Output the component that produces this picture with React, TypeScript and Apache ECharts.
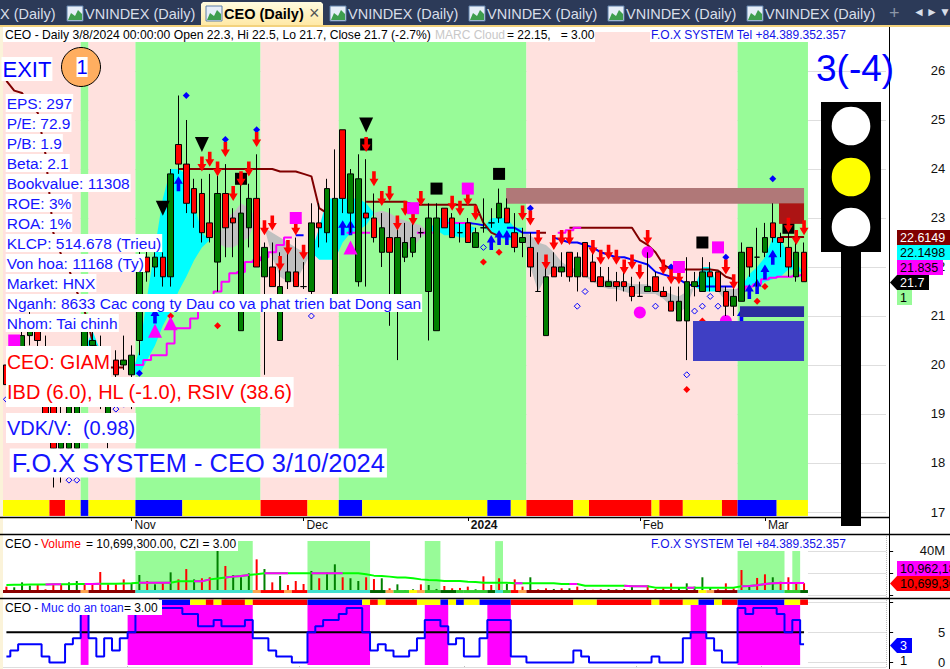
import React, { useEffect, useRef } from "react";
import * as echarts from "echarts";

const FONT = '"Liberation Sans", Arial, sans-serif';
const CATEGORY_COUNT = 113;
const monthTicks: Record<number, string> = { 16: "Nov", 38: "Dec", 59: "2024", 81: "Feb", 97: "Mar" };
const categories = Array.from({ length: CATEGORY_COUNT }, (_, i) => monthTicks[i] ?? String(i));

const opens = [20.0,19.8,19.8,20.6,20.7,19.4,19.2,18.3,18.3,18.3,20.2,20.4,20.3,19.0,20.1,20.0,19.8,20.5,22.2,22.0,22.2,21.8,24.5,24.1,23.6,23.5,22.9,22.1,23.5,23.0,20.7,22.8,23.4,21.8,22.0,20.5,21.7,21.9,21.6,21.5,22.9,22.7,21.2,24.8,23.1,21.7,23.1,23.0,22.3,22.6,21.3,22.2,22.3,22.7,21.5,20.7,23.2,23.0,22.7,22.9,22.4,22.8,22.9,23.0,23.2,22.7,22.5,22.4,21.5,20.6,22.0,21.9,22.3,21.8,22.5,22.1,21.8,21.6,21.7,21.7,21.6,21.4,21.5,21.8,21.5,21.3,20.9,20.9,21.6,21.5,21.9,21.9,21.5,21.2,21.3,22.4,22.2,22.3,22.9,22.6,22.4,21.8,22.3];
const closes = [19.6,20.2,20.6,20.9,20.5,19.0,18.3,19.0,19.2,19.2,20.7,20.5,20.3,19.2,19.8,20.1,20.2,22.1,21.9,22.2,21.8,23.9,24.1,23.3,23.1,22.7,22.6,23.5,22.8,22.9,23.1,23.4,22.0,22.4,21.6,21.6,21.9,21.6,21.6,22.9,22.8,23.6,23.4,23.4,23.9,23.8,23.0,22.6,22.8,22.3,22.6,22.5,22.6,22.7,23.0,23.0,22.8,22.6,22.7,22.5,22.7,22.8,22.9,23.3,22.9,22.4,22.6,22.0,21.5,21.8,21.8,22.0,21.8,22.2,21.8,21.7,21.6,21.7,21.6,21.6,21.4,21.4,21.6,21.5,21.4,21.1,21.3,21.7,21.7,21.9,21.8,21.5,21.2,21.4,22.3,22.0,22.2,22.6,22.6,22.5,22.0,22.3,21.7];
const lows = [19.5,19.6,19.7,20.4,20.2,18.8,17.5,17.6,18.1,18.2,20.1,20.1,19.1,18.3,19.7,19.9,19.1,20.2,21.7,21.8,21.6,21.6,23.9,23.1,22.8,22.5,22.5,21.5,22.2,22.2,20.7,22.4,22.0,19.8,21.6,20.5,21.55,21.6,21.55,21.3,22.4,22.5,21.1,23.1,22.7,21.6,21.6,22.5,22.0,20.8,20.1,22.1,22.2,22.6,20.5,20.7,22.8,22.6,22.5,22.5,22.4,22.7,22.8,22.9,22.9,22.3,22.2,21.8,21.5,20.6,21.8,21.8,21.7,21.5,21.8,21.7,21.6,21.6,21.3,21.5,21.3,21.4,21.5,21.5,21.4,21.1,20.9,20.1,21.4,21.5,21.5,21.5,21.0,21.0,21.3,21.8,21.6,22.2,22.5,22.2,21.8,21.7,21.7];
const highs = [20.1,20.3,20.7,21.1,20.9,20.6,19.4,19.2,19.3,19.4,20.9,20.7,20.6,19.3,20.3,20.6,20.4,22.4,22.4,22.3,22.3,24.0,25.5,25.0,23.8,23.8,23.9,24.0,24.1,23.2,23.9,23.7,24.3,22.5,22.5,22.3,22.5,22.6,22.1,23.3,23.3,23.8,24.4,24.8,24.0,24.3,24.2,23.5,23.1,23.2,22.8,22.9,22.9,22.8,23.3,23.3,23.2,23.1,22.9,23.0,22.8,23.4,23.2,23.6,23.4,23.1,22.8,22.7,22.3,22.2,22.3,22.3,22.3,22.3,22.5,22.3,22.0,22.0,21.9,21.9,21.8,21.7,22.3,21.9,21.6,21.6,21.6,22.2,21.9,22.2,22.1,21.9,21.6,21.6,22.5,22.4,22.8,22.9,23.3,22.7,22.8,22.5,22.5];

const volumes = [7.6,7,11.5,8.5,9.1,5.2,10,9.1,11.5,12.7,9.7,10.6,20.9,9.7,9.7,14.2,10.6,18.2,12.7,9.7,11.8,20.6,14.2,23.6,14.2,15.2,16.1,40.3,26.4,18.2,16.1,19.7,32.4,23.6,11.5,17.3,9.1,12.7,10,21.8,15.2,20.6,27.9,16.1,15.2,12.7,16.1,14.5,15.2,6.1,9.7,4.5,5.2,9.7,9.1,5.5,8.2,6.1,6.4,7.6,5.2,17,9.1,15.2,10,14.2,7.6,16.1,5.2,6.1,5.5,6.1,6.1,7.6,5.2,4.8,5.2,5.5,5.2,5.5,8.5,4.5,8.8,5.5,6.1,10.6,7,10.6,7.6,16.1,7,5.2,10.6,6.1,22.7,7.6,15.5,18.8,16.1,12.1,16.1,10.6,10.7];
const volumeSides = "rgggrrrrggrrrrrrggrgrgrrgrrgrgggrgrgrrrgrggrggrrgrgggrggrrrrgrrrgrrgrrgrgrgrrggrggrrrrgggggrrrrgrrgrrrrgr";
const volumeAverage = [9.1,9.3,9.3,9.5,9.5,9.6,9.7,9.7,9.8,9.9,10,10,10.2,10.2,10.3,10.5,10.6,11.2,11.2,11.2,11.2,11.2,12.4,12.4,12.4,12.4,14.2,15,16,16.7,17.3,18.2,18.8,19.7,19.7,19.7,19.7,19.7,19.7,19.7,19.7,19.7,19.7,19.7,19.7,19.7,18.8,17.6,17.3,16.7,16,15.8,15.2,14.2,13.6,13.3,12.7,12.7,12.7,12,11.8,11.2,11.2,11.2,11.2,10.6,10.6,10.6,10.6,10.6,10.6,10,10,10,8.5,8.5,8.5,8.5,8.5,8.5,7.9,7.9,7.9,6.7,6.7,6.7,6.7,6.7,6.7,6.7,6.7,6.7,6.7,6.7,7.9,8.2,8.8,10,10.6,10.8,10.9,10.96,10.96];
const volumeAverageMagentaRuns = [[5,7],[10,12],[17,21],[24,26],[28,31],[33,36],[39,43],[65,66],[72,73],[79,82],[87,88],[94,102]];

const safetyLevel = [1,2,3,3,3,1,0,0,3,4,8,4,1,4,2,4,5,8,8,9,9,9,9,8,8,6,6,7,6,6,6,7,4,4,2,1,1,0,0,5,6,7,7,8,9,9,5,2,3,2,1,1,2,4,7,7,6,3,4,1,1,4,7,7,7,1,1,0,0,0,0,0,0,2,1,0,0,0,0,0,0,0,0,1,0,0,0,4,5,5,4,2,0,0,9,8,9,9,9,8,5,7,3];
const safetyThreshold = safetyLevel.map(() => 5);

const trailSegments: [number, number[]][] = [
  [0,[25.8,25.6,25.55,25.3,25.15,24.3,22.7,22.25,21.95,21.5,21.1,20.5,20.25,19.95,19.95,19.95]],
  [22,[24,24,24,24,24,24,24,24,24,24,24,24,24,23.95,23.95,23.95,23.9,23.85,23.2,23.1]],
  [46,[23.33,23.33,23.33,23.33,23.33,23.33,23.27,23.27,23.27,23.27,23.27,23.27,23.27,23.27,23.27,22.9,22.7,22.63]],
  [68,[22.7,22.7]],
  [72,[22.8,22.8,22.8,22.8,22.8,22.8,22.8,22.8,22.8,22.55,22.45,22.3,22.05,21.95,21.95,21.95,21.95,21.95,21.95,21.93,21.8,21.75]],
  [99,[22.61,22.61,22.61,22.61]],
];
const magentaSegments: [number, number[]][] = [
  [17,[20.0,20.1,20.2,20.2,20.44,20.75,20.75,20.95,21.1,21.3,21.5,21.7,21.87,21.9,22.1,22.14,22.2,22.3,22.45,22.6]],
  [44,[22.7,22.7,22.7]],[53,[22.7,22.7]],[57,[22.9,22.9,22.9]],[71,[22.7,22.75,22.8]],
  [94,[21.55,21.6,21.65,21.75,21.78,21.8,21.8,21.82,21.835]],
];
const blueSegments: [number, number[]][] = [
  [37,[22.65,22.65]],[59,[22.9,22.88,22.85]],[64,[22.8,22.8,22.7,22.7,22.7]],
  [70,[22.6,22.55,22.5,22.5,22.45,22.4,22.3,22.25,22.2,22.2,22.15,22.1,22.05,21.9,21.85,21.8,21.75,21.65,21.62,21.6,21.6,21.6,21.6,21.6]],
];

const CYAN = "#00FFFF", GRAY = "#C0C0C0";
const cloudRuns = [
  { color: CYAN, start: 10, upper: [20.3,20.7,20.3], lower: [20.3,20.2,20.3] },
  { color: CYAN, start: 16, upper: [19.8,20.3,21.4,22.4,23.4,24.0,24.0,23.9,23.3,22.7,22.55], lower: [19.8,19.8,20.1,20.4,20.8,21.1,21.5,21.8,22.14,22.4,22.55] },
  { color: GRAY, start: 27, upper: [22.5,23.0,23.1,23.3,23.2,23.0], lower: [22.5,22.4,22.4,22.5,22.6,23.0] },
  { color: GRAY, start: 33, upper: [22.8,22.7,22.6,22.5,22.4,22.3,22.3], lower: [22.8,22.2,21.8,21.7,21.7,22.0,22.3] },
  { color: CYAN, start: 39, upper: [22.3,22.8,23.4,23.4,23.4,23.4,23.4,23.3,23.1], lower: [22.3,22.15,22.15,22.15,22.5,22.7,22.75,22.85,23.1] },
  { color: GRAY, start: 47, upper: [23.1,23.15,23.1,23.0,22.95,22.9,22.85,22.7], lower: [23.1,22.8,22.5,22.4,22.35,22.4,22.6,22.7] },
  { color: CYAN, start: 54, upper: [22.7,23.0,23.0,22.95,22.9,22.85,22.8], lower: [22.7,22.75,22.65,22.65,22.6,22.6,22.8] },
  { color: CYAN, start: 61, upper: [22.8,23.0,23.0,23.0,22.8,22.8], lower: [22.8,22.7,22.6,22.55,22.55,22.8] },
  { color: GRAY, start: 66, upper: [22.75,22.65,22.5,22.45,22.3,22.1,22.0,21.95,21.85,21.75,21.7,21.75,21.7,21.7,21.65,21.65,21.65,21.55,21.5,21.45,21.4,21.5,21.6], lower: [22.75,22.0,21.5,21.8,21.9,21.9,21.9,21.85,21.8,21.7,21.6,21.55,21.55,21.5,21.45,21.45,21.45,21.45,21.35,21.2,21.05,21.2,21.6] },
  { color: CYAN, start: 88, upper: [21.6,22.0,22.0,21.6], lower: [21.6,21.5,21.5,21.5] },
  { color: GRAY, start: 91, upper: [21.6,21.55,21.55,21.55], lower: [21.5,21.3,21.3,21.55] },
  { color: CYAN, start: 94, upper: [21.6,21.85,22.0,22.2,22.6,22.6,22.2,22.1,21.85], lower: [21.55,21.6,21.6,21.7,21.75,21.8,21.95,21.95,21.85] },
];

const redArrows = [[25,24.1],[26,24.2],[27,24.0],[28,24.4],[29,23.5],[30,23.8],[31,24.0],[32,24.6],[33,22.8],[34,22.9],[35,22.07],[36,22.4],[37,22.8],[38,22.3],[46,24.5],[47,23.8],[48,23.4],[49,23.5],[50,22.9],[51,23.2],[52,23.0],[53,23.4],[57,23.3],[58,23.2],[59,23.4],[60,23.1],[66,23.1],[67,23.0],[68,22.6],[69,22.1],[70,22.5],[71,22.6],[72,22.6],[75,22.4],[76,22.2],[77,22.3],[78,22.2],[79,22.0],[80,22.1],[81,21.9],[82,22.6],[84,22.0],[85,21.8],[86,21.8],[92,22.0],[93,21.7],[100,22.85],[101,22.6],[102,22.8]];
const blueArrows = [[19,21.0],[22,23.7],[43,22.8],[44,22.8],[62,22.5],[63,22.6],[64,22.6],[94,21.0],[95,21.5],[96,21.6],[97,21.9],[98,22.2]];
const blueDiamonds = [[17,19.83],[23,25.5],[28,24.6],[32,24.8],[67,23.2],[85,22.0],[92,22.2],[98,23.8]];
const redDiamonds = [[21,21.0],[27,20.8],[61,22.1],[63,22.3],[87,19.5],[89,20.9],[96,21.3],[97,21.6]];
const hollowDiamonds = [[0,19.3],[8,17.65],[9,17.65],[14,19.1],[15,19.2],[39,21.0],[61,22.4],[73,21.2],[74,21.5],[83,21.2],[87,19.8],[88,21.1],[89,21.2],[90,21.4],[91,21.2]];
const blackTriangles = [[20,23.2],[25,24.5],[46,24.9]];
const blackSquares = [[30,23.8],[46,24.5],[55,23.6],[63,23.9],[89,22.5],[100,22.8]];
const magentaSquares = [[1,20.5],[37,23.0],[52,23.2],[59,23.6],[86,22.0],[91,22.4]];
const magentaTriangles = [[19,20.7],[21,20.85],[44,22.4]];
const magentaCircles = [[81,21.07],[82,22.3],[92,20.9]];

const PINK = "#FFE1DE", GREEN = "#98FB98";
const regimeBands = [
  { k0: 0, k1: 10, color: PINK }, { k0: 10, k1: 11, color: GREEN }, { k0: 11, k1: 17, color: PINK },
  { k0: 17, k1: 33, color: GREEN }, { k0: 33, k1: 43, color: PINK }, { k0: 43, k1: 67, color: GREEN },
  { k0: 67, k1: 94, color: PINK }, { k0: 94, k1: 103, color: GREEN },
];
const RED = "#FF0000", YEL = "#FFFF00", BLU = "#0000FF";
const priceStrip: [number, number, string][] = [[0,6,YEL],[6,8,RED],[8,10,YEL],[10,11,BLU],[11,17,YEL],[17,23,BLU],[23,33,YEL],[33,39,RED],[39,43,YEL],[43,46,BLU],[46,62,YEL],[62,65,BLU],[65,67,YEL],[67,73,RED],[73,75,YEL],[75,83,RED],[83,84,YEL],[84,87,RED],[87,92,YEL],[92,94,RED],[94,99,BLU],[99,103,YEL]];
const safetyStrip: [number, number, string][] = [[20,24,BLU],[24,26,YEL],[26,27,RED],[27,28,YEL],[28,31,RED],[31,32,YEL],[32,39,RED],[39,46,BLU],[46,47,YEL],[47,48,RED],[48,49,YEL],[49,53,RED],[53,56,YEL],[56,57,BLU],[57,58,YEL],[58,59,BLU],[59,61,YEL],[61,65,BLU],[65,73,RED],[73,76,YEL],[76,83,RED],[83,84,YEL],[84,87,RED],[87,89,YEL],[89,91,BLU],[91,92,YEL],[92,94,RED],[94,100,BLU],[100,102,YEL],[102,103,RED]];
const DRED = "#8B0000", TURQ = "#40E0D0", ORG = "#FFA54F", LIME = "#32CD32", DGRN = "#006400";
const volumeStrip: [number, number, string][] = [[0,10,DRED],[10,11,ORG],[11,17,DRED],[17,32,TURQ],[32,33,ORG],[33,36,RED],[36,37,ORG],[37,39,RED],[39,47,TURQ],[47,49,DGRN],[49,50,ORG],[50,52,LIME],[52,53,YEL],[53,54,ORG],[54,56,LIME],[56,58,DGRN],[58,59,LIME],[59,62,LIME],[62,63,DGRN],[63,64,TURQ],[64,65,LIME],[65,66,RED],[66,67,ORG],[67,89,DRED],[89,90,YEL],[90,91,ORG],[91,94,DRED],[94,100,TURQ],[100,102,LIME],[102,103,DGRN]];
const volumeBands = [[17,32,49],[39,47,49],[54,56,49],[63,64,49],[94,100,40],[101,102,40]];
const safetyBands = [[10,11],[16,32],[39,47],[54,57],[62,65],[88,90],[94,102]];
const zoneBoxes = [
  { k0: 64.4, k1: 102.5, hi: 23.61, lo: 23.29, color: "#B07878" },
  { k0: 99.3, k1: 102.5, hi: 23.3, lo: 22.88, color: "#AC1414" },
  { k0: 94.3, k1: 102.5, hi: 21.2, lo: 20.98, color: "#2B2B9E" },
  { k0: 88.3, k1: 102.5, hi: 20.9, lo: 20.08, color: "#3F3FC4" },
];

const infoLines = ["EPS: 297","P/E: 72.9","P/B: 1.9","Beta: 2.1","Bookvalue: 11308","ROE: 3%","ROA: 1%","KLCP: 514.678 (Trieu)","Von hoa: 11168 (Ty)","Market: HNX","Nganh: 8633 Cac cong ty Dau co va phat trien bat Dong san","Nhom: Tai chinh"];
const tabTextX = [85, 348, 487, 626, 765];

function expand(segments: [number, number[]][]) {
  const out: (number | null)[] = new Array(103).fill(null);
  segments.forEach(([s, vals]) => vals.forEach((v, j) => { out[s + j] = v; }));
  return out;
}

function rectRender(list: { k0: number; k1: number; hi: number; lo: number; color: string }[]) {
  return (params: any, api: any) => {
    const b = list[params.dataIndex];
    const w = api.size([1, 0])[0];
    const a = api.coord([0, b.hi]);
    const c = api.coord([0, b.lo]);
    return {
      type: "rect",
      shape: { x: a[0] - w / 2 + b.k0 * w, y: a[1], width: (b.k1 - b.k0) * w, height: c[1] - a[1] },
      style: { fill: b.color },
    };
  };
}
function rectSeries(list: any[], gridIdx: number, z: number) {
  return {
    type: "custom", xAxisIndex: gridIdx, yAxisIndex: gridIdx, z, silent: true,
    renderItem: rectRender(list), data: list.map((_, i) => [i, 0]), encode: { x: 0, y: 1 },
  };
}
function stripToBoxes(strip: [number, number, string][], hi: number, lo: number) {
  return strip.map(([k0, k1, color]) => ({ k0, k1, hi, lo, color }));
}
function cloudSeries() {
  return {
    type: "custom", xAxisIndex: 0, yAxisIndex: 0, z: 2, silent: true,
    data: cloudRuns.map((_, i) => [i, 0]), encode: { x: 0, y: 1 },
    renderItem: (params: any, api: any) => {
      const run = cloudRuns[params.dataIndex];
      const top = run.upper.map((v, j) => api.coord([run.start + j, v]));
      const bot = run.lower.map((v, j) => api.coord([run.start + j, v])).reverse();
      return { type: "polygon", shape: { points: [...top, ...bot] }, style: { fill: run.color } };
    },
  };
}
function marks(data: number[][], symbol: string, size: any, color: string, z: number, extra: any = {}) {
  return { type: "scatter", xAxisIndex: 0, yAxisIndex: 0, data, symbol, symbolSize: size, z, silent: true, itemStyle: { color, opacity: 1, ...extra } };
}
function lineS(data: any[], color: string, gridIdx: number, z: number, width: number, step: any = false) {
  return { type: "line", xAxisIndex: gridIdx, yAxisIndex: gridIdx, data, z, step, symbol: "none", silent: true, connectNulls: false, lineStyle: { color, width }, itemStyle: { color } };
}

function buildGraphic() {
  const Z = 100;
  const els: any[] = [];
  const text = (t: string, x: number, y: number, font: string, fill: string, extra: any = {}) =>
    els.push({ type: "text", z: Z + 2, silent: true, style: { text: t, x, y, font: `${font} ${FONT}`, fill, verticalAlign: "middle", align: "left", ...extra } });
  const rect = (x: number, y: number, width: number, height: number, fill: any, zz = Z) =>
    els.push({ type: "rect", z: zz, silent: true, shape: { x, y, width, height }, style: { fill } });
  const hline = (x1: number, x2: number, y: number, w = 1) =>
    els.push({ type: "line", z: Z + 1, silent: true, shape: { x1, y1: y, x2, y2: y }, style: { stroke: "#000", lineWidth: w } });

  // tab strip
  rect(0, 0, 950, 25, "#2C3A58");
  rect(0, 25, 950, 2, "#F3D27D");
  rect(0, 27, 3, 642, "#FBF3D9");
  els.push({ type: "polygon", z: Z, silent: true, shape: { points: [[201, 25], [201, 4], [203, 2], [321, 2], [323, 4], [323, 25]] },
    style: { fill: new echarts.graphic.LinearGradient(0, 0, 0, 1, [{ offset: 0, color: "#FFFBE0" }, { offset: 1, color: "#FFE9A6" }]) } });
  const icon = (x: number) => {
    rect(x, 6, 16, 15, "#E6EEF8");
    els.push({ type: "polygon", z: Z + 1, silent: true, shape: { points: [[x + 1, 20], [x + 4, 13], [x + 8, 16], [x + 11, 10], [x + 15, 14], [x + 15, 20]] }, style: { fill: "#3E9E4E" } });
    els.push({ type: "rect", z: Z + 1, silent: true, shape: { x, y: 6, width: 16, height: 15 }, style: { fill: "none", stroke: "#5C7FA8", lineWidth: 1 } });
  };
  text("X (Daily)", 0, 14, "14.5px", "#D8DEE9");
  tabTextX.forEach((x) => { icon(x - 18); text("VNINDEX (Daily)", x, 14, "14.5px", "#D8DEE9"); });
  icon(206);
  text("CEO (Daily)", 224, 14, "bold 14.5px", "#000");
  text("×", 309, 13, "18px", "#555");
  text("+", 889, 13, "18px", "#8C97A8");
  text("◄", 913, 12, "12px", "#D8DEE9");
  text("►", 926, 12, "12px", "#D8DEE9");
  text("▼", 939, 12, "12px", "#D8DEE9");

  // header
  rect(3, 27, 592, 15, "#fff");
  text("CEO - Daily 3/8/2024 00:00:00 Open 22.3, Hi 22.5, Lo 21.7, Close 21.7 (-2.7%)", 5, 34.5, "12.15px", "#000");
  text("MARC Cloud", 435, 34.5, "12px", "#C8C8C8");
  text("= 22.15,   = 3.00", 507, 34.5, "12px", "#000");
  rect(650, 27, 197, 15, "#fff");
  text("F.O.X SYSTEM Tel +84.389.352.357", 651, 34.5, "12px", "#1212E8");

  // info labels
  text("EXIT", 1.5, 69, "22px", "#0000FF", { backgroundColor: "#fff", padding: [1, 1] });
  els.push({ type: "circle", z: Z + 1, silent: true, shape: { cx: 81, cy: 67, r: 19.5 }, style: { fill: "#FFAE60", stroke: "#000", lineWidth: 1 } });
  text("1", 76.5, 67, "20px", "#0000FF", { backgroundColor: "#fff" });
  infoLines.forEach((t, i) => text(t, 5.7, 103 + 20 * i, "15.5px", "#1414FF", { backgroundColor: "#fff", padding: [1, 1] }));
  text("CEO: GIAM", 6, 362, "19.5px", "#FF0000", { backgroundColor: "#fff", padding: [6, 1] });
  text("IBD (6.0), HL (-1.0), RSIV (38.6)", 6, 392, "20px", "#FF0000", { backgroundColor: "#fff", padding: [5, 1] });
  text("VDK/V:  (0.98)", 6, 428, "20px", "#1414FF", { backgroundColor: "#fff", padding: [5, 1] });
  text("F.O.X SYSTEM - CEO 3/10/2024", 9.7, 463, "25.45px", "#1414FF", { backgroundColor: "#fff", padding: [2, 2] });

  // traffic light
  text("3(-4)", 816, 68, "37px", "#0000FF");
  rect(821, 102, 60, 150, "#000");
  rect(841, 252, 20, 274, "#000");
  [[126, "#fff"], [177, "#FFFF00"], [227, "#fff"]].forEach(([cy, fill]) =>
    els.push({ type: "circle", z: Z + 1, silent: true, shape: { cx: 851, cy, r: 19.3 }, style: { fill } }));

  // panel rules
  hline(0, 889, 517.5, 1.5);
  hline(0, 950, 534.5, 1.5);
  hline(0, 950, 598.5, 1.5);
  els.push({ type: "line", z: Z + 1, silent: true, shape: { x1: 889.5, y1: 27, x2: 889.5, y2: 669 }, style: { stroke: "#000", lineWidth: 1 } });

  // price tags
  const tag = (x: number, y: number, w: number, h: number, fill: string, label: string, color: string, arrow = false, font = "12.5px") => {
    if (arrow) els.push({ type: "polygon", z: Z + 3, silent: true, shape: { points: [[890, y + h / 2], [x, y], [x, y + h]] }, style: { fill } });
    rect(x, y, w, h, fill, Z + 3);
    els.push({ type: "text", z: Z + 4, silent: true, style: { text: label, x: x + 3, y: y + h / 2 + 0.5, font: `${font} ${FONT}`, fill: color, verticalAlign: "middle", align: "left" } });
  };
  tag(897, 230, 53, 15, "#800000", "22.6149", "#fff");
  tag(897, 245, 53, 15, "#00FFFF", "22.1498", "#000");
  tag(897, 260, 46, 15, "#FF00FF", "21.835", "#000");
  tag(897, 275, 32, 15, "#000", "21.7", "#fff", true);
  tag(897, 290, 15, 15, "#98FB98", "1", "#000");
  tag(897, 561, 53, 15, "#FF00FF", "10,962,18", "#000");
  tag(897, 576, 53, 15, "#FF0000", "10,699,30", "#000", true);
  tag(897, 638, 15, 15, "#0000FF", "3", "#fff", true);
  text("1", 900, 660, "13px", "#000");

  // sub-panel titles
  rect(3, 537, 235, 14, "#fff");
  text("CEO - ", 5, 544, "12px", "#000");
  text("Volume", 41, 544, "12px", "#FF0000");
  text("= 10,699,300.00, CZI = 3.00", 86, 544, "12px", "#000");
  text("F.O.X SYSTEM Tel +84.389.352.357", 651, 544, "12px", "#1212E8");
  rect(3, 600, 159, 15, "#fff");
  text("CEO - ", 5, 608, "12px", "#000");
  text("Muc do an toan", 41, 608, "12px", "#1414FF");
  text("= 3.00", 124, 608, "12px", "#000");
  return els;
}

const App: React.FC = () => {
  const ref = useRef<HTMLDivElement>(null);
  useEffect(() => {
    const chart = echarts.init(ref.current!, undefined, { renderer: "svg" });
    const left = 2.5, width = 7.82 * CATEGORY_COUNT;
    const grids = [
      { left, width, top: 26, height: 491 },
      { left, width, top: 534, height: 64 },
      { left, width, top: 598, height: 71 },
    ];
    const isMonth = (i: number) => monthTicks[i] !== undefined;
    const xAxes = grids.map((_, g) => ({
      type: "category", gridIndex: g, data: categories, boundaryGap: true,
      axisLine: { show: false },
      axisTick: g === 0 ? { show: true, alignWithLabel: true, length: 4, interval: (i: number) => isMonth(i), lineStyle: { color: "#000" } } : { show: false },
      axisLabel: g === 0 ? {
        show: true, interval: (i: number) => isMonth(i), align: "left", margin: 2, padding: [0, 0, 0, 3],
        color: "#111", fontFamily: FONT, fontSize: 12,
        formatter: (v: string) => (v === "2024" ? "{b|2024}" : v),
        rich: { b: { fontWeight: "bold", fontFamily: FONT, fontSize: 12, color: "#111" } },
      } : { show: false },
      splitLine: g === 0 ? { show: false } : { show: true, interval: (i: number) => isMonth(i), lineStyle: { color: "#BDBDBD", type: "dotted" } },
    }));
    const yBase = (g: number, min: number, max: number, split: number, fmt: (v: number) => string, tick: boolean) => ({
      type: "value", gridIndex: g, position: "right", offset: 3, min, max, splitNumber: split, scale: true,
      axisLine: { show: false },
      axisTick: { show: tick, length: 4, inside: false, lineStyle: { color: "#000" } },
      axisLabel: { show: true, formatter: fmt, align: "right", margin: 56, color: "#111", fontFamily: FONT, fontSize: 13, showMinLabel: false, showMaxLabel: false },
      splitLine: { show: true, lineStyle: { color: "#BDBDBD", type: "dotted" } },
    });
    const yAxes = [
      yBase(0, 16.898, 26.918, 10, (v) => (Number.isInteger(v) ? String(v) : ""), false),
      yBase(1, -2.73, 55.45, 3, (v) => (v === 40 ? "40M" : ""), true),
      yBase(2, -0.806, 10.645, 2, (v) => (v === 5 || v === 0 ? String(v) : ""), true),
    ];

    const priceBands = regimeBands.map((b) => ({ ...b, hi: b.color === PINK ? 26.796 : 26.592, lo: 17.245 }));
    const series: any[] = [
      rectSeries(priceBands, 0, 1),
      rectSeries(stripToBoxes(priceStrip, 17.245, 16.92), 0, 1),
      cloudSeries(),
      lineS(expand(trailSegments), "#800000", 0, 3, 2),
      lineS(expand(magentaSegments), "#FF00FF", 0, 3, 2, "middle"),
      lineS(expand(blueSegments), "#0000FF", 0, 3, 2),
      marks(blueArrows, "path://M5,0L10,7H7V14H3V7H0Z", [9, 15], "#0000FF", 4),
      marks(blueDiamonds, "diamond", 7, "#0000FF", 4),
      marks(redDiamonds, "diamond", 7, "#FF0000", 4),
      marks(hollowDiamonds, "diamond", 6, "transparent", 4, { borderColor: "#0000FF", borderWidth: 1 }),
      marks(blackSquares, "rect", 12, "#000", 4),
      marks(magentaCircles, "circle", 12, "#FF00FF", 4),
      rectSeries(zoneBoxes, 0, 5),
      {
        type: "candlestick", xAxisIndex: 0, yAxisIndex: 0, z: 6, silent: true, barWidth: 6,
        data: opens.map((o, i) => [o, closes[i], lows[i], highs[i]]),
        itemStyle: { color: "#008000", color0: "#FF0000", borderColor: "#000", borderColor0: "#000", borderColorDoji: "#000", borderWidth: 1 },
      },
      marks(redArrows, "path://M3,0H7V7H10L5,14L0,7H3Z", [9, 15], "#FF0000", 7),
      marks(blackTriangles, "path://M0,0H10L5,10Z", [14, 15], "#000", 7),
      marks(magentaSquares, "rect", 12, "#FF00FF", 7),
      marks(magentaTriangles, "triangle", 14, "#FF00FF", 7),

      // volume pane
      rectSeries([{ k0: 0, k1: 103, hi: 54, lo: 1.8, color: "#fff" }], 1, 1),
      rectSeries(volumeBands.map(([k0, k1, hi]) => ({ k0, k1, hi, lo: 1.8, color: GREEN })), 1, 1),
      {
        type: "bar", xAxisIndex: 1, yAxisIndex: 1, z: 3, silent: true, barWidth: 2,
        data: volumes.map((v, i) => ({ value: v, itemStyle: { color: volumeSides[i] === "r" ? "#FF0000" : "#008000" } })),
      },
      lineS(volumeAverage, "#00FF00", 1, 4, 2),
      lineS(volumeAverage.map((v, i) => (volumeAverageMagentaRuns.some(([a, b]) => i >= a && i <= b) ? v : null)), "#FF00FF", 1, 4, 2),
      rectSeries(stripToBoxes(volumeStrip, 4.5, 1.8), 1, 5),
      rectSeries([{ k0: 0, k1: 103, hi: 1.8, lo: -2.7, color: "#fff" }], 1, 5),

      // safety pane
      rectSeries([{ k0: 0, k1: 103, hi: 10.4, lo: -0.4, color: "#fff" }], 2, 1),
      rectSeries(safetyBands.map(([k0, k1]) => ({ k0, k1, hi: 9.5, lo: -0.4, color: "#FF00FF" })), 2, 1),
      rectSeries(stripToBoxes(safetyStrip, 10.4, 9.5), 2, 1),
      lineS(safetyThreshold, "#000", 2, 3, 2),
      lineS(safetyLevel, "#0000FF", 2, 4, 2, "middle"),
    ];

    chart.setOption({
      animation: false,
      backgroundColor: "#fff",
      grid: grids,
      xAxis: xAxes,
      yAxis: yAxes,
      series,
      graphic: { elements: buildGraphic() },
    });
    return () => chart.dispose();
  }, []);
  return <div ref={ref} style={{ position: "absolute", left: 0, top: 0, width: 950, height: 669, overflow: "hidden" }} />;
};

export default App;
